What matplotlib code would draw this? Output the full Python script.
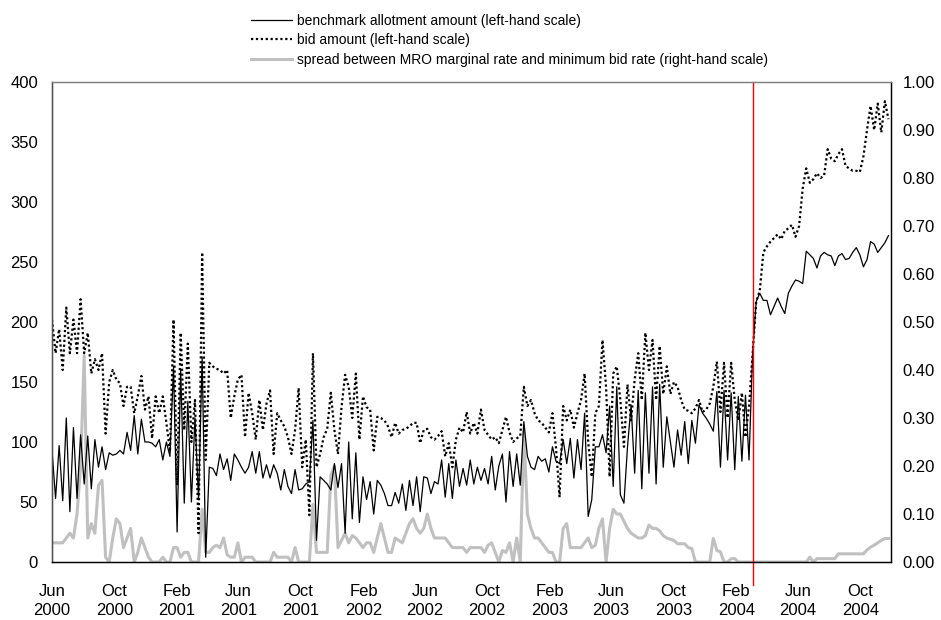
import pandas as pd
import matplotlib
matplotlib.use('Agg')
import matplotlib.pyplot as plt

plt.rcParams['font.family'] = ['Liberation Sans', 'DejaVu Sans']
plt.rcParams['font.size'] = 10

# weekly MRO observations, first one at the June 2000 tick
start = '2000-06-01'

# benchmark allotment amount (left-hand scale)
benchmark = [
    93, 53, 97, 51, 120, 42, 112, 53, 106, 65,
    105, 61, 102, 79, 96, 77, 91, 89, 90, 93,
    90, 108, 93, 122, 90, 119, 100, 100, 99, 96,
    102, 85, 100, 88, 163, 25, 160, 49, 134, 50,
    120, 52, 171, 4, 79, 78, 72, 90, 77, 86,
    68, 90, 85, 79, 74, 79, 92, 74, 92, 70,
    81, 70, 81, 74, 60, 77, 63, 57, 77, 60,
    61, 65, 67, 118, 18, 71, 68, 65, 60, 82,
    62, 82, 24, 100, 36, 91, 33, 71, 52, 67,
    40, 68, 64, 57, 47, 47, 58, 49, 65, 43,
    68, 47, 71, 42, 71, 70, 57, 67, 65, 85,
    54, 82, 53, 85, 63, 78, 64, 85, 65, 79,
    68, 78, 65, 88, 60, 80, 90, 50, 92, 63,
    90, 64, 117, 88, 79, 77, 88, 84, 86, 75,
    96, 84, 82, 102, 82, 103, 70, 102, 77, 124,
    38, 52, 96, 96, 106, 91, 130, 63, 146, 56,
    49, 96, 131, 74, 143, 61, 141, 74, 146, 65,
    148, 79, 121, 100, 79, 110, 89, 117, 82, 118,
    99, 131, 124, 120, 115, 109, 142, 79, 143, 85,
    141, 77, 138, 84, 139, 85, 174, 217, 224, 218,
    218, 206, 213, 220, 213, 207, 224, 230, 235, 234,
    232, 259, 256, 253, 245, 255, 258, 256, 255, 247,
    255, 257, 252, 253, 258, 262, 256, 246, 252, 267,
    265, 258, 262, 266, 272,
]

# bid amount (left-hand scale)
bid = [
    202, 174, 194, 160, 212, 174, 202, 174, 219, 174,
    191, 157, 169, 160, 174, 107, 150, 160, 152, 149,
    130, 146, 146, 124, 138, 155, 127, 138, 103, 138,
    124, 138, 116, 92, 202, 64, 191, 110, 182, 100,
    135, 24, 258, 85, 166, 163, 161, 160, 157, 160,
    120, 138, 152, 156, 104, 141, 124, 102, 135, 110,
    132, 143, 90, 124, 118, 113, 104, 90, 110, 145,
    79, 102, 39, 174, 79, 90, 104, 111, 141, 110,
    90, 129, 156, 146, 120, 157, 102, 138, 129, 127,
    93, 121, 120, 118, 113, 104, 116, 107, 110, 111,
    113, 116, 116, 99, 110, 111, 104, 102, 105, 109,
    88, 99, 79, 102, 112, 108, 125, 107, 116, 107,
    127, 110, 106, 102, 104, 99, 110, 121, 108, 100,
    103, 105, 146, 130, 135, 124, 118, 116, 112, 108,
    124, 95, 54, 130, 118, 127, 112, 124, 135, 157,
    100, 71, 124, 130, 185, 146, 71, 157, 163, 135,
    96, 148, 118, 152, 174, 135, 191, 160, 185, 135,
    180, 140, 163, 140, 150, 146, 135, 127, 126, 124,
    128, 135, 125, 127, 132, 146, 167, 125, 166, 120,
    166, 135, 118, 141, 104, 130, 174, 217, 226, 258,
    263, 267, 270, 273, 269, 276, 278, 281, 271, 280,
    311, 328, 316, 319, 324, 320, 322, 344, 336, 334,
    340, 344, 330, 328, 326, 326, 325, 338, 360, 380,
    360, 382, 358, 384, 369,
]

# spread between MRO marginal rate and minimum bid rate (right-hand scale)
spread = [
    0.04, 0.04, 0.04, 0.04, 0.05, 0.06, 0.05, 0.10, 0.20, 0.43,
    0.05, 0.08, 0.06, 0.16, 0.17, 0.01, 0.00, 0.05, 0.09, 0.08,
    0.03, 0.05, 0.07, 0.00, 0.02, 0.05, 0.03, 0.01, 0.00, 0.00,
    0.00, 0.01, 0.00, 0.00, 0.03, 0.03, 0.01, 0.02, 0.02, 0.00,
    0.00, 0.00, 0.11, 0.02, 0.02, 0.03, 0.035, 0.03, 0.05, 0.015,
    0.01, 0.01, 0.04, 0.00, 0.01, 0.01, 0.01, 0.00, 0.00, 0.00,
    0.00, 0.00, 0.02, 0.01, 0.01, 0.01, 0.01, 0.00, 0.03, 0.00,
    0.00, 0.00, 0.00, 0.12, 0.02, 0.02, 0.02, 0.02, 0.18, 0.20,
    0.03, 0.045, 0.06, 0.04, 0.055, 0.05, 0.04, 0.03, 0.04, 0.04,
    0.02, 0.05, 0.08, 0.05, 0.02, 0.02, 0.05, 0.045, 0.04, 0.06,
    0.08, 0.09, 0.07, 0.06, 0.07, 0.10, 0.07, 0.05, 0.05, 0.05,
    0.05, 0.04, 0.03, 0.03, 0.03, 0.03, 0.02, 0.03, 0.03, 0.03,
    0.03, 0.02, 0.035, 0.04, 0.02, 0.00, 0.024, 0.02, 0.04, 0.00,
    0.05, 0.00, 0.27, 0.10, 0.07, 0.05, 0.05, 0.04, 0.03, 0.02,
    0.02, 0.00, 0.00, 0.07, 0.08, 0.03, 0.03, 0.03, 0.03, 0.04,
    0.05, 0.03, 0.035, 0.07, 0.09, 0.00, 0.07, 0.11, 0.10, 0.10,
    0.085, 0.07, 0.06, 0.055, 0.05, 0.05, 0.055, 0.077, 0.07, 0.07,
    0.065, 0.055, 0.05, 0.047, 0.045, 0.038, 0.038, 0.038, 0.03, 0.028,
    0.00, 0.00, 0.00, 0.00, 0.00, 0.049, 0.024, 0.021, 0.00, 0.00,
    0.007, 0.007, 0.00, 0.00, 0.00, 0.00, 0.00, 0.00, 0.00, 0.00,
    0.00, 0.00, 0.00, 0.00, 0.00, 0.00, 0.00, 0.00, 0.00, 0.00,
    0.00, 0.00, 0.01, 0.00, 0.007, 0.007, 0.007, 0.007, 0.007, 0.007,
    0.017, 0.017, 0.017, 0.017, 0.017, 0.017, 0.017, 0.017, 0.025, 0.031,
    0.035, 0.04, 0.045, 0.049, 0.049,
]

labels = ['benchmark allotment amount (left-hand scale)',
          'bid amount (left-hand scale)',
          'spread between MRO marginal rate and minimum bid rate (right-hand scale)']

# x tick positions (every four months) and the March 2004 framework change
tick_months = pd.date_range('2000-06-01', '2004-10-01', freq='4MS')
break_date = pd.Timestamp('2004-03-05')

dates = pd.date_range(start, periods=len(benchmark), freq='7D')

fig = plt.figure(figsize=(9.41, 6.2), dpi=100)
ax = fig.add_axes([52 / 941, 1 - 562 / 620, (891 - 52) / 941, (562 - 82) / 620])
ax2 = ax.twinx()
ax.set_zorder(ax2.get_zorder() + 1)
ax.patch.set_visible(False)

l3, = ax2.plot(dates, spread, color='#c0c0c0', lw=2.2, label=labels[2])
l1, = ax.plot(dates, benchmark, color='black', lw=0.9, label=labels[0])
l2, = ax.plot(dates, bid, color='black', lw=1.6, ls=(0, (1, 1.2)), label=labels[1])
ax.axvline(break_date, ymin=-0.048, ymax=1, color='red', lw=1, clip_on=False)

ax.set_xlim(dates[0], dates[-1] + pd.Timedelta(days=5))
ax.set_ylim(0, 400)
ax.set_yticks(range(0, 401, 50))
ax2.set_ylim(0, 1)
ax2.set_yticks([i / 10 for i in range(11)])
ax2.set_yticklabels(['%.2f' % (i / 10) for i in range(11)])

ax.set_xticks(tick_months)
ax.set_xticklabels([d.strftime('%b\n%Y') for d in tick_months])
for lbl in ax.get_xticklabels():
    lbl.set_linespacing(1.35)

ax.tick_params(axis='x', length=0, pad=16, labelsize=12)
ax.tick_params(axis='y', length=0, pad=10, labelsize=12)
ax2.tick_params(axis='y', length=0, pad=8.5, labelsize=12)

for a in (ax, ax2):
    for s in a.spines.values():
        s.set_color('black')
        s.set_linewidth(0.9)
ax.spines['top'].set_color('#808080')
ax2.spines['top'].set_color('#808080')
ax.spines['left'].set_color('#505050')

fig.legend(handles=[l1, l2, l3], loc='upper left',
           bbox_to_anchor=(251 / 941, 1 - 14 / 620), frameon=False,
           handlelength=2.95, handletextpad=0.35, labelspacing=0.38,
           borderpad=0, borderaxespad=0, fontsize=10)

fig.savefig('out.png', dpi=100)
